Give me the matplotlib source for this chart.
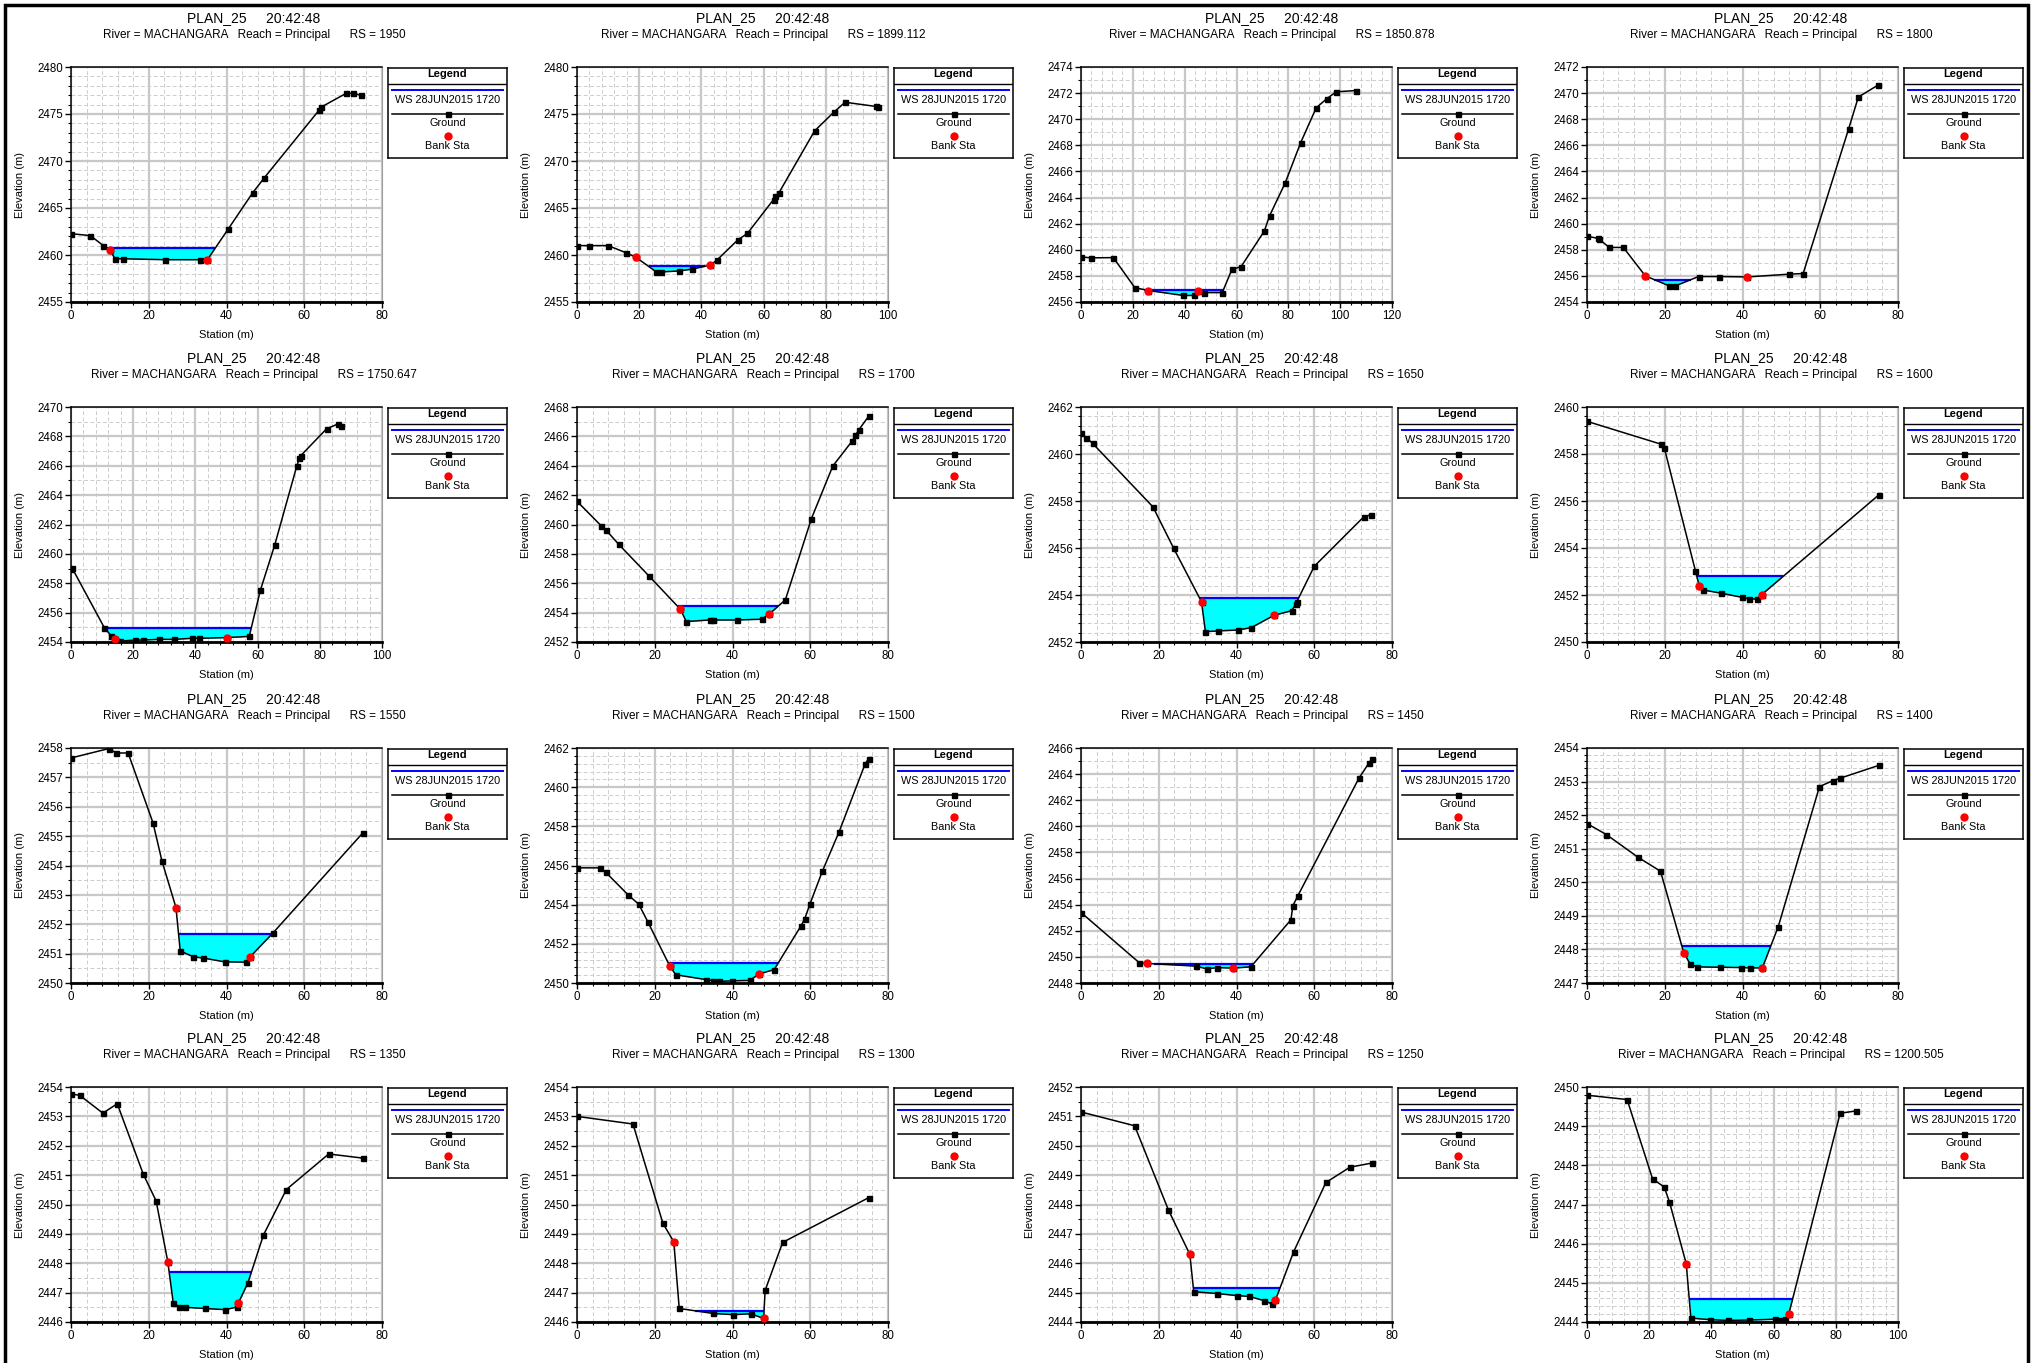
import numpy as np
import matplotlib
matplotlib.use("Agg")
import matplotlib.pyplot as plt
from matplotlib.ticker import MultipleLocator, FormatStrFormatter
from matplotlib.patches import Rectangle

plt.rcParams['font.family'] = ['Liberation Sans', 'DejaVu Sans']

# Profils en travers HEC-RAS (station, cote)
rs_labels = ["1950", "1899.112", "1850.878", "1800",
             "1750.647", "1700", "1650", "1600",
             "1550", "1500", "1450", "1400",
             "1350", "1300", "1250", "1200.505"]

sta_1950 = [0, 5, 8.3, 10, 11.3, 13.3, 24.2, 33.3, 35, 40.5, 46.7, 49.7, 63.8, 64.2, 70.8, 72.5, 74.7]
elev_1950 = [2462.27, 2462.06, 2461.0, 2460.57, 2459.6, 2459.6, 2459.5, 2459.5, 2459.45, 2462.8,
             2466.6, 2468.2, 2475.4, 2475.7, 2477.2, 2477.2, 2477.0]
bank_1950 = [10, 35]
ws_1950 = 2460.74

sta_1899 = [0, 4, 10, 15.7, 19, 25.5, 27, 32.8, 37, 42.9, 45, 51.7, 54.8, 63.2, 63.8, 64.9,
            76.4, 82.6, 86.2, 96.2, 96.7]
elev_1899 = [2461.0, 2461.0, 2461.0, 2460.25, 2459.75, 2458.2, 2458.2, 2458.3, 2458.5, 2458.93,
             2459.46, 2461.6, 2462.3, 2465.9, 2466.25, 2466.6, 2473.2, 2475.2, 2476.25, 2475.8, 2475.7]
bank_1899 = [19, 42.9]
ws_1899 = 2458.8

sta_1850 = [0, 3.75, 12.5, 20.75, 26, 39.5, 43.75, 45, 47.5, 54.5, 58.25, 61.75, 70.75, 72.75,
            78.75, 84.75, 90.75, 94.75, 98.5, 106.25]
elev_1850 = [2459.46, 2459.38, 2459.4, 2457.1, 2456.88, 2456.5, 2456.5, 2456.88, 2456.72, 2456.72,
             2458.5, 2458.7, 2461.44, 2462.6, 2465.1, 2468.2, 2470.87, 2471.56, 2472.1, 2472.2]
bank_1850 = [26, 45]
ws_1850 = 2456.95

sta_1800 = [0, 2.8, 3.2, 5.7, 9.35, 15, 21.2, 22.7, 28.7, 34, 41.2, 51.9, 55.6, 67.3, 69.8, 74.8]
elev_1800 = [2459.05, 2458.87, 2458.8, 2458.18, 2458.18, 2456.0, 2455.23, 2455.23, 2455.95, 2455.95,
             2455.92, 2456.13, 2456.18, 2467.26, 2469.7, 2470.6]
bank_1800 = [15, 41.2]
ws_1800 = 2455.72

sta_1750 = [0, 0.4, 10.7, 13, 14, 15.7, 20.5, 23, 28.2, 33, 38.9, 41, 50, 57.3, 60.9, 65.5,
            72.6, 73.4, 73.8, 82.2, 85.8, 86.8]
elev_1750 = [2459.0, 2459.02, 2454.98, 2454.4, 2454.22, 2454.06, 2454.13, 2454.13, 2454.18, 2454.18,
             2454.25, 2454.25, 2454.3, 2454.38, 2457.53, 2460.6, 2465.98, 2466.5, 2466.67, 2468.52,
             2468.84, 2468.74]
bank_1750 = [14, 50]
ws_1750 = 2454.93

sta_1700 = [0, 6.2, 7.4, 10.7, 18.6, 26.6, 28.1, 34.1, 35, 41.2, 47.5, 49.4, 53.6, 60.3, 65.8,
            70.8, 71.6, 72.5, 75]
elev_1700 = [2461.58, 2459.92, 2459.64, 2458.66, 2456.47, 2454.23, 2453.39, 2453.5, 2453.5, 2453.5,
             2453.55, 2453.89, 2454.87, 2460.4, 2463.98, 2465.69, 2466.06, 2466.45, 2467.36]
bank_1700 = [26.6, 49.4]
ws_1700 = 2454.42

sta_1650 = [0, 1.3, 3, 18.5, 23.8, 31, 32, 35.2, 40.3, 43.8, 49.7, 54.2, 55.2, 55.5, 60, 72.7, 74.7]
elev_1650 = [2460.89, 2460.7, 2460.45, 2457.75, 2456.0, 2453.71, 2452.44, 2452.47, 2452.51, 2452.61,
             2453.14, 2453.33, 2453.6, 2453.71, 2455.22, 2457.32, 2457.42]
bank_1650 = [31, 49.7]
ws_1650 = 2453.87

sta_1600 = [0, 19, 19.9, 27.9, 28.9, 29.9, 34.4, 39.9, 41.6, 43.7, 44.9, 75]
elev_1600 = [2459.39, 2458.42, 2458.25, 2453.02, 2452.37, 2452.21, 2452.08, 2451.9, 2451.83, 2451.83,
             2452.01, 2456.25]
bank_1600 = [28.9, 44.9]
ws_1600 = 2452.8

sta_1550 = [0, 9.7, 11.7, 14.7, 21.1, 23.4, 27, 28.1, 31.5, 34, 39.5, 45, 46, 52, 75]
elev_1550 = [2457.66, 2457.98, 2457.83, 2457.83, 2455.45, 2454.15, 2452.57, 2451.09, 2450.89, 2450.85,
             2450.72, 2450.71, 2450.88, 2451.71, 2455.1]
bank_1550 = [27, 46]
ws_1550 = 2451.66

sta_1500 = [0, 6, 7.4, 13.2, 15.9, 18.2, 23.9, 25.4, 33.3, 35, 36.5, 39.8, 44.4, 46.9, 50.7, 57.6,
            58.6, 59.9, 63.1, 67.4, 74.1, 75]
elev_1500 = [2455.88, 2455.88, 2455.65, 2454.49, 2454.02, 2453.13, 2450.85, 2450.42, 2450.17, 2450.11,
             2450.08, 2450.11, 2450.13, 2450.47, 2450.68, 2452.91, 2453.29, 2454.02, 2455.7, 2457.71,
             2461.18, 2461.45]
bank_1500 = [23.9, 46.9]
ws_1500 = 2451.02

sta_1450 = [0, 15, 17, 29.7, 32.3, 35, 39.2, 43.7, 54, 54.5, 55.8, 71.5, 74, 74.8]
elev_1450 = [2453.4, 2449.55, 2449.5, 2449.29, 2449.08, 2449.18, 2449.14, 2449.24, 2452.84, 2453.92,
             2454.69, 2463.69, 2464.82, 2465.15]
bank_1450 = [17, 39.2]
ws_1450 = 2449.47

sta_1400 = [0, 5, 13.2, 18.9, 24.9, 26.5, 28.2, 34.1, 39.6, 41.9, 45.1, 49.2, 59.8, 63.3, 65.1, 75]
elev_1400 = [2451.75, 2451.42, 2450.74, 2450.33, 2447.9, 2447.57, 2447.48, 2447.47, 2447.46, 2447.45,
             2447.45, 2448.68, 2452.85, 2453.03, 2453.1, 2453.48]
bank_1400 = [24.9, 45.1]
ws_1400 = 2448.1

sta_1350 = [0, 2.2, 8.2, 11.9, 18.6, 21.9, 24.9, 26.3, 27.9, 29.3, 34.5, 39.7, 42.7, 43, 45.5, 49.5,
            55.4, 66.3, 75]
elev_1350 = [2453.76, 2453.72, 2453.11, 2453.43, 2451.03, 2450.12, 2448.05, 2446.65, 2446.51, 2446.5,
             2446.46, 2446.42, 2446.51, 2446.63, 2447.33, 2448.96, 2450.51, 2451.72, 2451.58]
bank_1350 = [24.9, 43]
ws_1350 = 2447.71

sta_1300 = [0, 14.4, 22.1, 24.9, 26.3, 35.1, 40.2, 44.7, 48, 48.4, 52.9, 75]
elev_1300 = [2453.0, 2452.74, 2449.36, 2448.73, 2446.46, 2446.29, 2446.25, 2446.28, 2446.12, 2447.08,
             2448.71, 2450.23]
bank_1300 = [24.9, 48]
ws_1300 = 2446.38

sta_1250 = [0, 13.8, 22.5, 28, 29, 35, 40, 43.3, 47, 49.2, 50, 54.7, 63, 69.2, 74.8]
elev_1250 = [2451.15, 2450.68, 2447.81, 2446.3, 2445.03, 2444.97, 2444.9, 2444.87, 2444.73, 2444.61,
             2444.74, 2446.39, 2448.75, 2449.27, 2449.41]
bank_1250 = [28, 50]
ws_1250 = 2445.16

sta_1200 = [0, 12.9, 21.1, 24.8, 26.5, 31.9, 33.4, 39.5, 45.3, 52, 60.3, 62.4, 63.7, 64.9, 81.4, 86.6]
elev_1200 = [2449.79, 2449.68, 2447.65, 2447.45, 2447.07, 2445.49, 2444.1, 2444.06, 2444.04, 2444.05,
             2444.07, 2444.05, 2444.07, 2444.21, 2449.33, 2449.39]
bank_1200 = [31.9, 64.9]
ws_1200 = 2444.6

# Echelles des axes
x_max = [80, 100, 120, 80, 100, 80, 80, 80, 80, 80, 80, 80, 80, 80, 80, 100]
y_lims = [(2455, 2480), (2455, 2480), (2456, 2474), (2454, 2472),
          (2454, 2470), (2452, 2468), (2452, 2462), (2450, 2460),
          (2450, 2458), (2450, 2462), (2448, 2466), (2447, 2454),
          (2446, 2454), (2446, 2454), (2444, 2452), (2444, 2450)]
y_major = [5, 5, 2, 2, 2, 2, 2, 2, 1, 2, 2, 1, 1, 1, 1, 1]
y_minor = [1, 1, 1, 1, 1, 1, 0.4, 0.4, 0.5, 0.4, 1, 0.2, 0.5, 0.5, 0.5, 0.2]

sections = [
    (sta_1950, elev_1950, bank_1950, ws_1950),
    (sta_1899, elev_1899, bank_1899, ws_1899),
    (sta_1850, elev_1850, bank_1850, ws_1850),
    (sta_1800, elev_1800, bank_1800, ws_1800),
    (sta_1750, elev_1750, bank_1750, ws_1750),
    (sta_1700, elev_1700, bank_1700, ws_1700),
    (sta_1650, elev_1650, bank_1650, ws_1650),
    (sta_1600, elev_1600, bank_1600, ws_1600),
    (sta_1550, elev_1550, bank_1550, ws_1550),
    (sta_1500, elev_1500, bank_1500, ws_1500),
    (sta_1450, elev_1450, bank_1450, ws_1450),
    (sta_1400, elev_1400, bank_1400, ws_1400),
    (sta_1350, elev_1350, bank_1350, ws_1350),
    (sta_1300, elev_1300, bank_1300, ws_1300),
    (sta_1250, elev_1250, bank_1250, ws_1250),
    (sta_1200, elev_1200, bank_1200, ws_1200),
]

W, H = 2035, 1363
fig = plt.figure(figsize=(W / 100, H / 100), dpi=100)


def box(l, t, w, h):
    return [l / W, 1 - (t + h) / H, w / W, h / H]


def ftext(x, y, s, **kw):
    fig.text(x / W, 1 - y / H, s, **kw)


col_left = [71, 577, 1081, 1587]
row_top = [67, 407, 748, 1087]
ax_w, ax_h = 311, 235

for i, (sta, elev, bank, ws) in enumerate(sections):
    r, c = divmod(i, 4)
    l, t = col_left[c], row_top[r]
    ax = fig.add_axes(box(l, t, ax_w, ax_h))
    sta = np.array(sta, dtype=float)
    elev = np.array(elev, dtype=float)

    # zone en eau : depuis le point bas du lit jusqu'aux intersections avec la ligne d'eau
    xd = np.union1d(sta, np.linspace(sta[0], sta[-1], 5000))
    zd = np.interp(xd, sta, elev)
    chan = np.flatnonzero((xd >= bank[0]) & (xd <= bank[1]))
    k = chan[np.argmin(zd[chan])]
    lo = k
    while lo > 0 and zd[lo - 1] < ws:
        lo -= 1
    hi = k
    while hi < len(xd) - 1 and zd[hi + 1] < ws:
        hi += 1
    ax.fill_between(xd[lo:hi + 1], zd[lo:hi + 1], ws, color='#00ffff', lw=0, zorder=2)
    ax.plot([xd[lo], xd[hi]], [ws, ws], color='#0000ff', lw=1.6, zorder=3, solid_capstyle='butt')
    ax.plot(sta, elev, color='black', lw=1.1, marker='s', ms=3.6, zorder=4)
    ax.plot(bank, np.interp(bank, sta, elev), 'o', color='red', mec='none', ms=6, zorder=5)

    ax.set_xlim(0, x_max[i])
    ax.set_ylim(*y_lims[i])
    ax.xaxis.set_major_locator(MultipleLocator(20))
    ax.xaxis.set_minor_locator(MultipleLocator(4))
    ax.yaxis.set_major_locator(MultipleLocator(y_major[i]))
    ax.yaxis.set_minor_locator(MultipleLocator(y_minor[i]))
    ax.yaxis.set_major_formatter(FormatStrFormatter('%d'))
    ax.xaxis.set_major_formatter(FormatStrFormatter('%d'))
    ax.set_axisbelow(True)
    ax.grid(which='major', color='#c8c8c8', lw=1.6, ls='-')
    ax.grid(which='minor', color='#cdcdcd', lw=0.7, ls=(0, (4, 2.5)))
    ax.tick_params(which='major', direction='out', length=4, width=1, labelsize=8.3, pad=1.5)
    ax.tick_params(which='minor', direction='out', length=2.5, width=0.8)
    for side in ['left', 'top']:
        ax.spines[side].set_linewidth(1.1)
    ax.spines['bottom'].set_linewidth(2)
    ax.spines['right'].set_color('#a0a0a0')

    # titres
    cx = c * 509 + 254
    ftext(cx, t - 49, 'PLAN_25     20:42:48', fontsize=10, ha='center', va='center')
    ftext(cx, t - 32, 'River = MACHANGARA   Reach = Principal      RS = ' + rs_labels[i],
          fontsize=8.5, ha='center', va='center')
    ftext(l + ax_w / 2, t + ax_h + 33, 'Station (m)', fontsize=8, ha='center', va='center')
    ftext(l - 51, t + ax_h / 2, 'Elevation (m)', fontsize=8, ha='center', va='center', rotation=90)

    # boite de legende
    lax = fig.add_axes(box(l + ax_w + 6, t + 1, 119, 90))
    lax.set_xlim(0, 119)
    lax.set_ylim(90, 0)
    lax.set_xticks([])
    lax.set_yticks([])
    for sp in lax.spines.values():
        sp.set_linewidth(1.1)
    lax.text(59.5, 6, 'Legend', fontsize=8, fontweight='bold', ha='center', va='center')
    lax.axhline(16, color='black', lw=1)
    lax.plot([4, 115], [22, 22], color='#0000ff', lw=1.4)
    lax.text(59.5, 32, 'WS 28JUN2015 1720', fontsize=7.8, ha='center', va='center')
    lax.plot([4, 115], [46, 46], color='black', lw=1.1)
    lax.plot([59.5], [46], 's', color='black', ms=3.6)
    lax.text(59.5, 55, 'Ground', fontsize=7.8, ha='center', va='center')
    lax.plot([59.5], [68], 'o', color='red', mec='none', ms=6)
    lax.text(59.5, 78, 'Bank Sta', fontsize=7.8, ha='center', va='center')

# cadre exterieur
fig.add_artist(Rectangle((5 / W, -0.02), (2028 - 5) / W, 1.02 - 5 / H,
                         transform=fig.transFigure, fill=False, lw=2.5, color='black'))

plt.savefig('out.png', dpi=100)
